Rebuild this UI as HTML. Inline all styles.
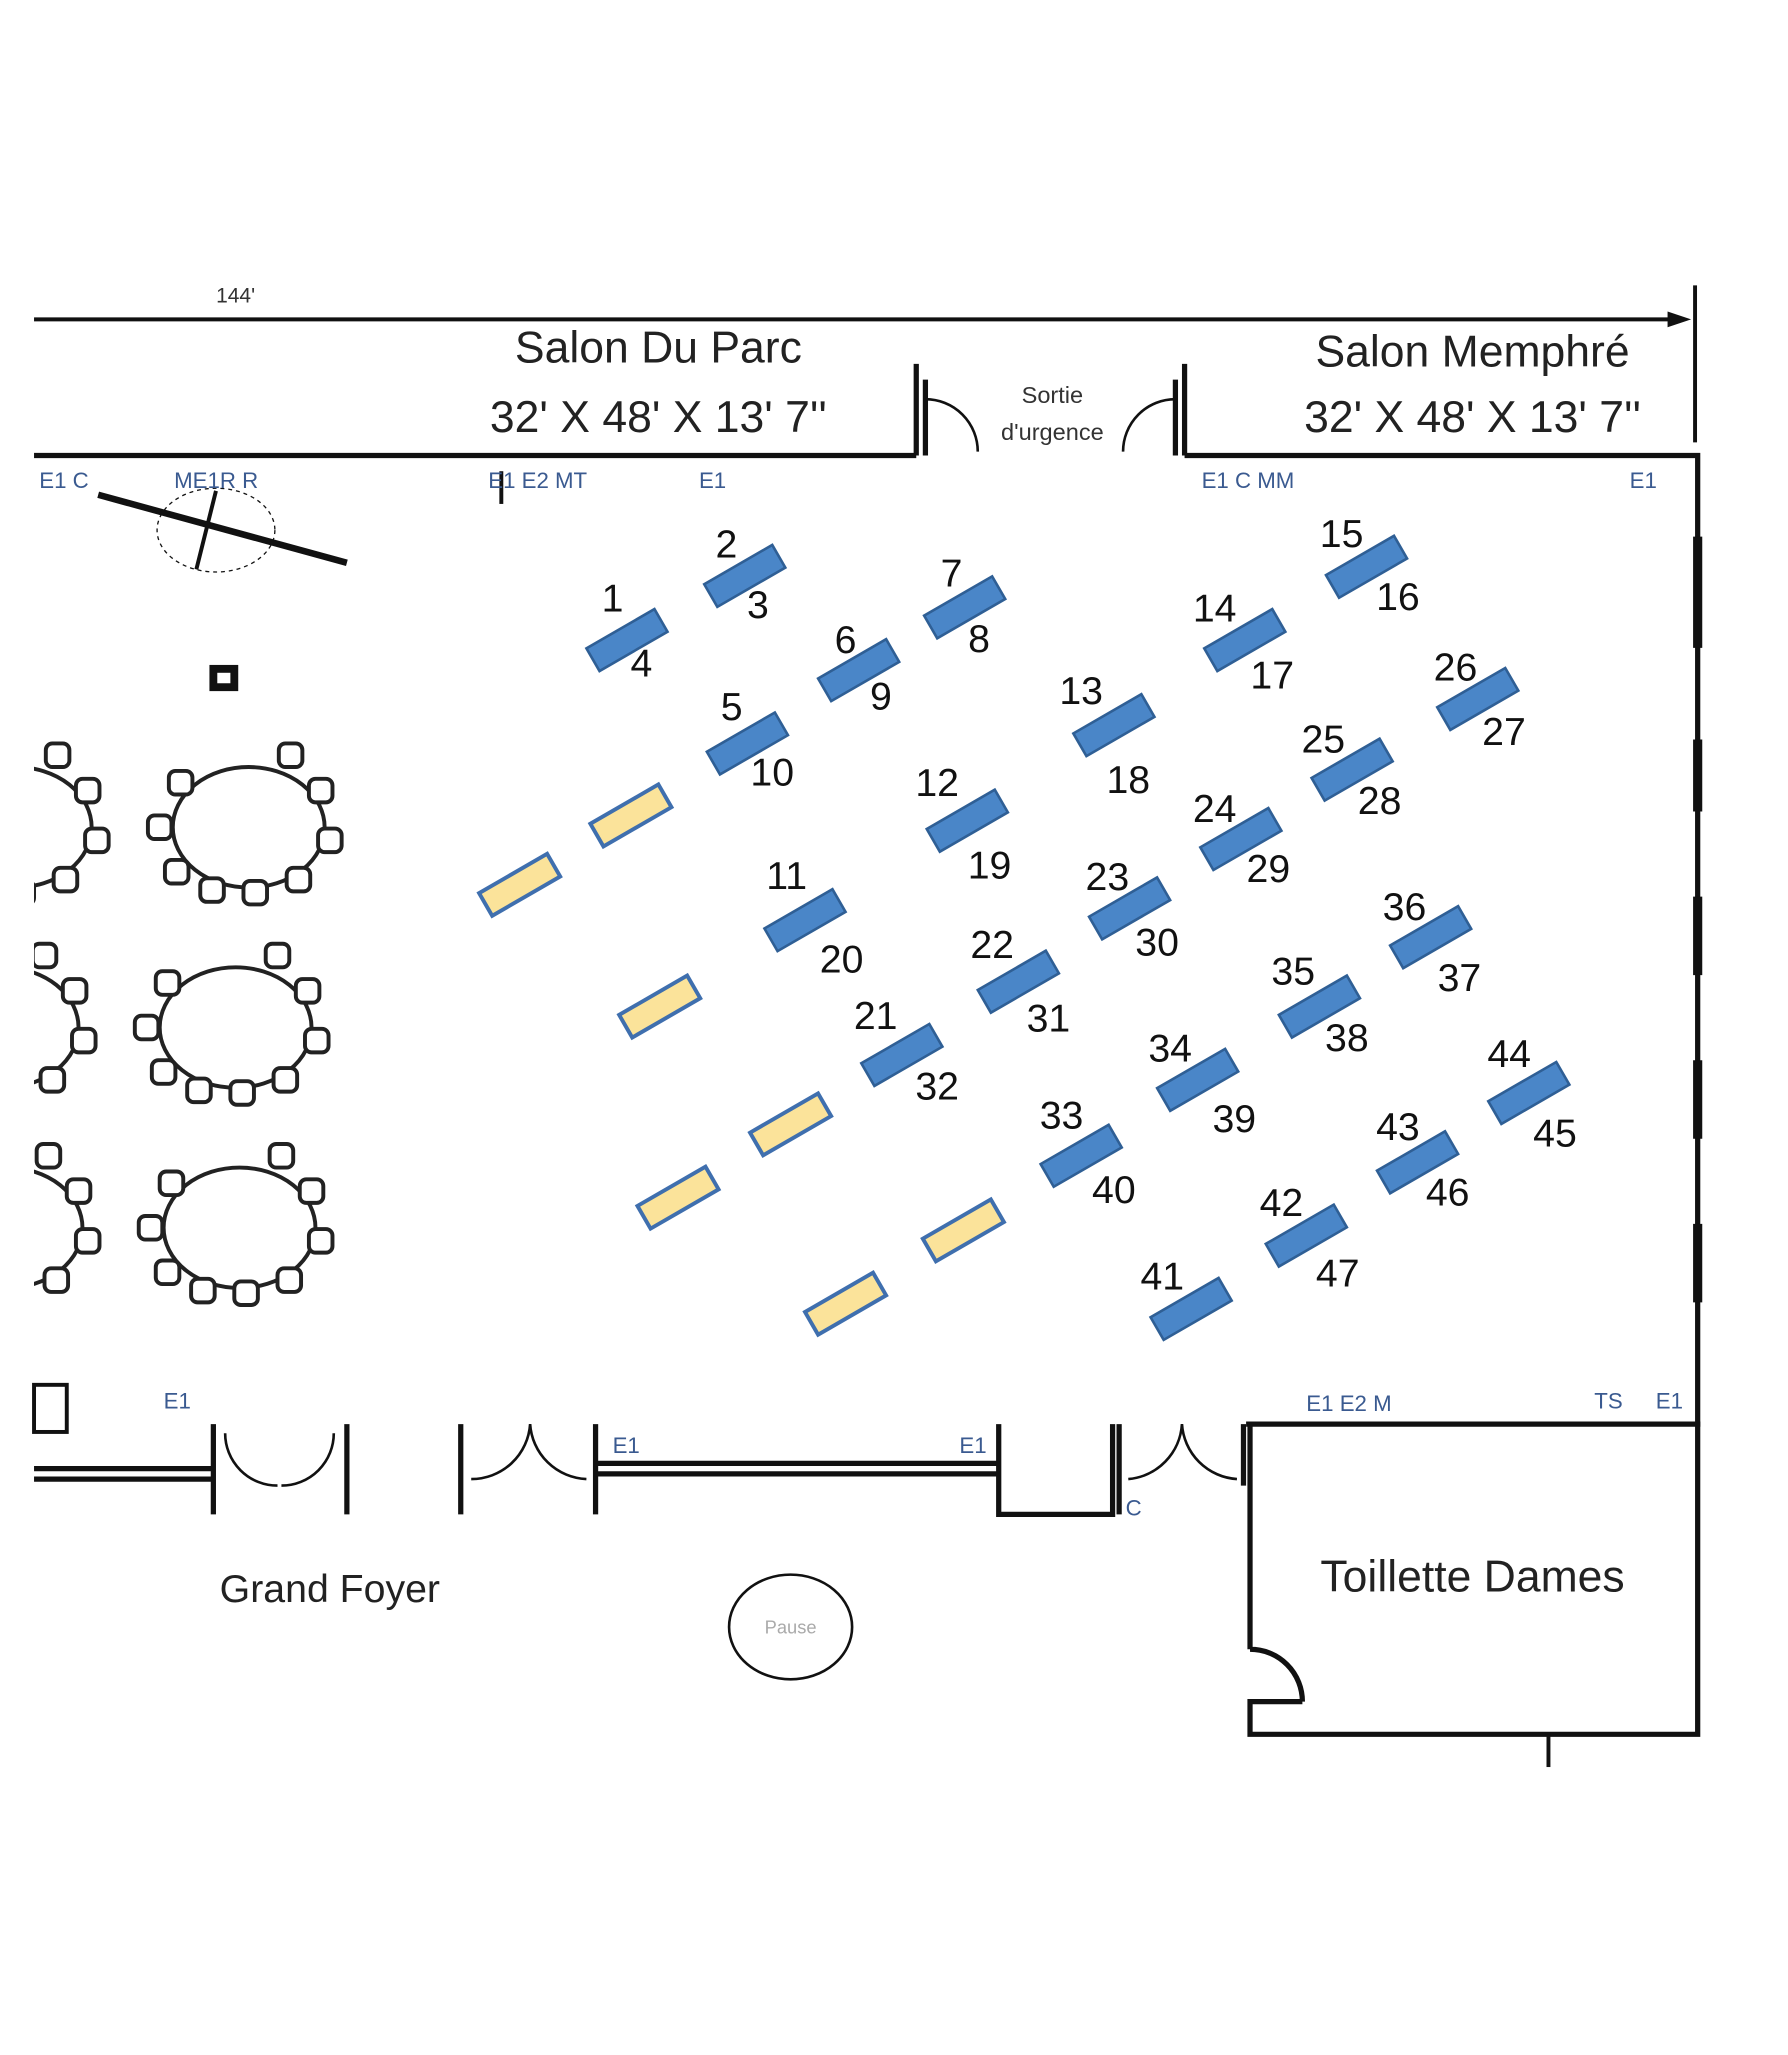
<!DOCTYPE html>
<html><head><meta charset="utf-8"><style>
html,body{margin:0;padding:0;background:#fff}
svg{display:block}
text{font-family:"Liberation Sans",sans-serif}
</style></head><body>
<svg width="1788" height="2055" viewBox="0 0 1366 1570" xmlns="http://www.w3.org/2000/svg">
<defs>
<g id="bt"><rect x="-30" y="-10" width="60" height="20" fill="#4a86c8" stroke="#2f5f95" stroke-width="2"/></g>
<g id="yt"><rect x="-30" y="-10" width="60" height="20" fill="#fbe39a" stroke="#3f6fae" stroke-width="3"/></g>
<g id="ch"><rect x="-9" y="-9" width="18" height="18" rx="5" fill="#fff" stroke="#222" stroke-width="3"/></g>
<g id="rt">
<ellipse cx="0" cy="0" rx="58" ry="46" fill="#fff" stroke="#222" stroke-width="3"/>
<use href="#ch" x="-68" y="0"/><use href="#ch" x="-52" y="-34"/><use href="#ch" x="-55" y="34"/>
<use href="#ch" x="-28" y="48"/><use href="#ch" x="5" y="50"/><use href="#ch" x="38" y="40"/>
<use href="#ch" x="62" y="10"/><use href="#ch" x="55" y="-28"/><use href="#ch" x="32" y="-55"/>
</g>
<clipPath id="cl"><rect x="26" y="0" width="1340" height="1570"/></clipPath>
</defs>
<g fill="none" stroke="#111" stroke-width="4">
<line x1="26" y1="244" x2="1285" y2="244" stroke-width="3"/>
<polygon points="1292,244 1274,238 1274,250" fill="#111" stroke="none"/>
<line x1="1295" y1="218" x2="1295" y2="338" stroke-width="3"/>
<path d="M26 348 H700 M700 278 V348 M707 290 V348 M905 278 V348 M898 290 V348 M905 348 H1297 V1090"/>
<path d="M707 305 A40 40 0 0 1 747 345 M898 305 A40 40 0 0 0 858 345" stroke-width="2"/>
<path d="M26 1122 H163 M26 1130 H163 M163 1088 V1157 M265 1088 V1157 M352 1088 V1157 M455 1088 V1157 M455 1118 H763 M455 1126 H763 M763 1088 V1157 H850 V1088 M855 1088 V1157 M950 1088 V1135" stroke-width="4"/>
<path d="M172 1095 A40 40 0 0 0 212 1135 M255 1095 A40 40 0 0 1 215 1135 M360 1130 A45 45 0 0 0 405 1088 M448 1130 A45 45 0 0 1 405 1088 M862 1130 A45 45 0 0 0 903 1088 M945 1130 A45 45 0 0 1 903 1088" stroke-width="2"/>
<path d="M952 1088 H1297 V1325 H955 V1300 H995 M955 1088 V1260 M955 1260 A40 40 0 0 1 995 1300" stroke-width="4"/>
<rect x="26" y="1058" width="25" height="36" stroke-width="3"/>
<line x1="75" y1="378" x2="265" y2="430" stroke-width="5"/>
<ellipse cx="165" cy="405" rx="45" ry="32" stroke-width="1" stroke-dasharray="3 3"/>
<line x1="165" y1="375" x2="150" y2="435" stroke-width="3"/>
<line x1="383" y1="360" x2="383" y2="385" stroke-width="3"/>
<ellipse cx="604" cy="1243" rx="47" ry="40" stroke-width="2"/>
<line x1="1183" y1="1325" x2="1183" y2="1350" stroke-width="3"/>
<path d="M1297 410 V495 M1297 565 V620 M1297 685 V745 M1297 810 V870 M1297 935 V995" stroke-width="7"/>
</g>
<rect x="160" y="508" width="22" height="20" fill="#111"/><rect x="166" y="514" width="10" height="8" fill="#fff"/>
<use href="#rt" x="190" y="632"/><use href="#rt" x="180" y="785"/><use href="#rt" x="183" y="938"/>
<g clip-path="url(#cl)">
<use href="#rt" x="12" y="632"/><use href="#rt" x="2" y="785"/><use href="#rt" x="5" y="938"/>
</g>
<g font-size="34" fill="#222" text-anchor="middle">
<text x="503" y="277">Salon Du Parc</text><text x="503" y="330">32' X 48' X 13' 7''</text>
<text x="1125" y="280">Salon Memphré</text><text x="1125" y="330">32' X 48' X 13' 7''</text>
<text x="1125" y="1216">Toillette Dames</text>
<text x="252" y="1224" font-size="30">Grand Foyer</text>
</g>
<g font-size="18" fill="#333" text-anchor="middle"><text x="804" y="308">Sortie</text><text x="804" y="336">d'urgence</text><text x="180" y="231" font-size="16">144'</text><text x="604" y="1248" font-size="14" fill="#aaa">Pause</text></g>
<g font-size="17" fill="#3a5a90">
<text x="30" y="373">E1 C</text><text x="133" y="373">ME1R R</text><text x="373" y="373">E1 E2 MT</text><text x="534" y="373">E1</text>
<text x="918" y="373">E1 C MM</text><text x="1245" y="373">E1</text><text x="125" y="1076">E1</text><text x="468" y="1110">E1</text><text x="733" y="1110">E1</text>
<text x="998" y="1078">E1 E2 M</text><text x="1218" y="1076">TS</text><text x="1265" y="1076">E1</text><text x="860" y="1158">C</text>
</g>
<g>
<use href="#bt" transform="translate(479,489) rotate(-30)"/><use href="#bt" transform="translate(569,440) rotate(-30)"/>
<use href="#bt" transform="translate(737,464) rotate(-30)"/><use href="#bt" transform="translate(656,512) rotate(-30)"/>
<use href="#bt" transform="translate(571,568) rotate(-30)"/><use href="#bt" transform="translate(851,554) rotate(-30)"/>
<use href="#bt" transform="translate(951,489) rotate(-30)"/><use href="#bt" transform="translate(1044,433) rotate(-30)"/>
<use href="#bt" transform="translate(1129,534) rotate(-30)"/><use href="#bt" transform="translate(1033,588) rotate(-30)"/>
<use href="#bt" transform="translate(739,627) rotate(-30)"/><use href="#bt" transform="translate(948,641) rotate(-30)"/>
<use href="#bt" transform="translate(863,694) rotate(-30)"/><use href="#bt" transform="translate(615,703) rotate(-30)"/>
<use href="#bt" transform="translate(778,750) rotate(-30)"/><use href="#bt" transform="translate(1093,716) rotate(-30)"/>
<use href="#bt" transform="translate(1008,769) rotate(-30)"/><use href="#bt" transform="translate(689,806) rotate(-30)"/>
<use href="#bt" transform="translate(915,825) rotate(-30)"/><use href="#bt" transform="translate(826,883) rotate(-30)"/>
<use href="#bt" transform="translate(1168,835) rotate(-30)"/><use href="#bt" transform="translate(1083,888) rotate(-30)"/>
<use href="#bt" transform="translate(998,944) rotate(-30)"/><use href="#bt" transform="translate(910,1000) rotate(-30)"/>
<use href="#yt" transform="translate(482,623) rotate(-30)"/><use href="#yt" transform="translate(397,676) rotate(-30)"/>
<use href="#yt" transform="translate(504,769) rotate(-30)"/><use href="#yt" transform="translate(604,859) rotate(-30)"/>
<use href="#yt" transform="translate(518,915) rotate(-30)"/><use href="#yt" transform="translate(736,940) rotate(-30)"/>
<use href="#yt" transform="translate(646,996) rotate(-30)"/>
</g>
<g font-size="30" fill="#111" text-anchor="middle">
<text x="468" y="467">1</text><text x="490" y="517">4</text><text x="555" y="426">2</text><text x="579" y="472">3</text>
<text x="727" y="448">7</text><text x="748" y="498">8</text><text x="646" y="499">6</text><text x="673" y="542">9</text>
<text x="559" y="550">5</text><text x="590" y="600">10</text><text x="826" y="538">13</text><text x="862" y="606">18</text>
<text x="928" y="475">14</text><text x="972" y="526">17</text><text x="1025" y="418">15</text><text x="1068" y="466">16</text>
<text x="1112" y="520">26</text><text x="1149" y="569">27</text><text x="1011" y="575">25</text><text x="1054" y="622">28</text>
<text x="716" y="608">12</text><text x="756" y="671">19</text><text x="928" y="628">24</text><text x="969" y="674">29</text>
<text x="846" y="680">23</text><text x="884" y="730">30</text><text x="601" y="679">11</text><text x="643" y="743">20</text>
<text x="758" y="732">22</text><text x="801" y="788">31</text><text x="1073" y="703">36</text><text x="1115" y="757">37</text>
<text x="988" y="752">35</text><text x="1029" y="803">38</text><text x="669" y="786">21</text><text x="716" y="840">32</text>
<text x="894" y="811">34</text><text x="943" y="865">39</text><text x="811" y="862">33</text><text x="851" y="919">40</text>
<text x="1153" y="815">44</text><text x="1188" y="876">45</text><text x="1068" y="871">43</text><text x="1106" y="921">46</text>
<text x="979" y="929">42</text><text x="1022" y="983">47</text><text x="888" y="985">41</text>
</g>
</svg>
</body></html>
